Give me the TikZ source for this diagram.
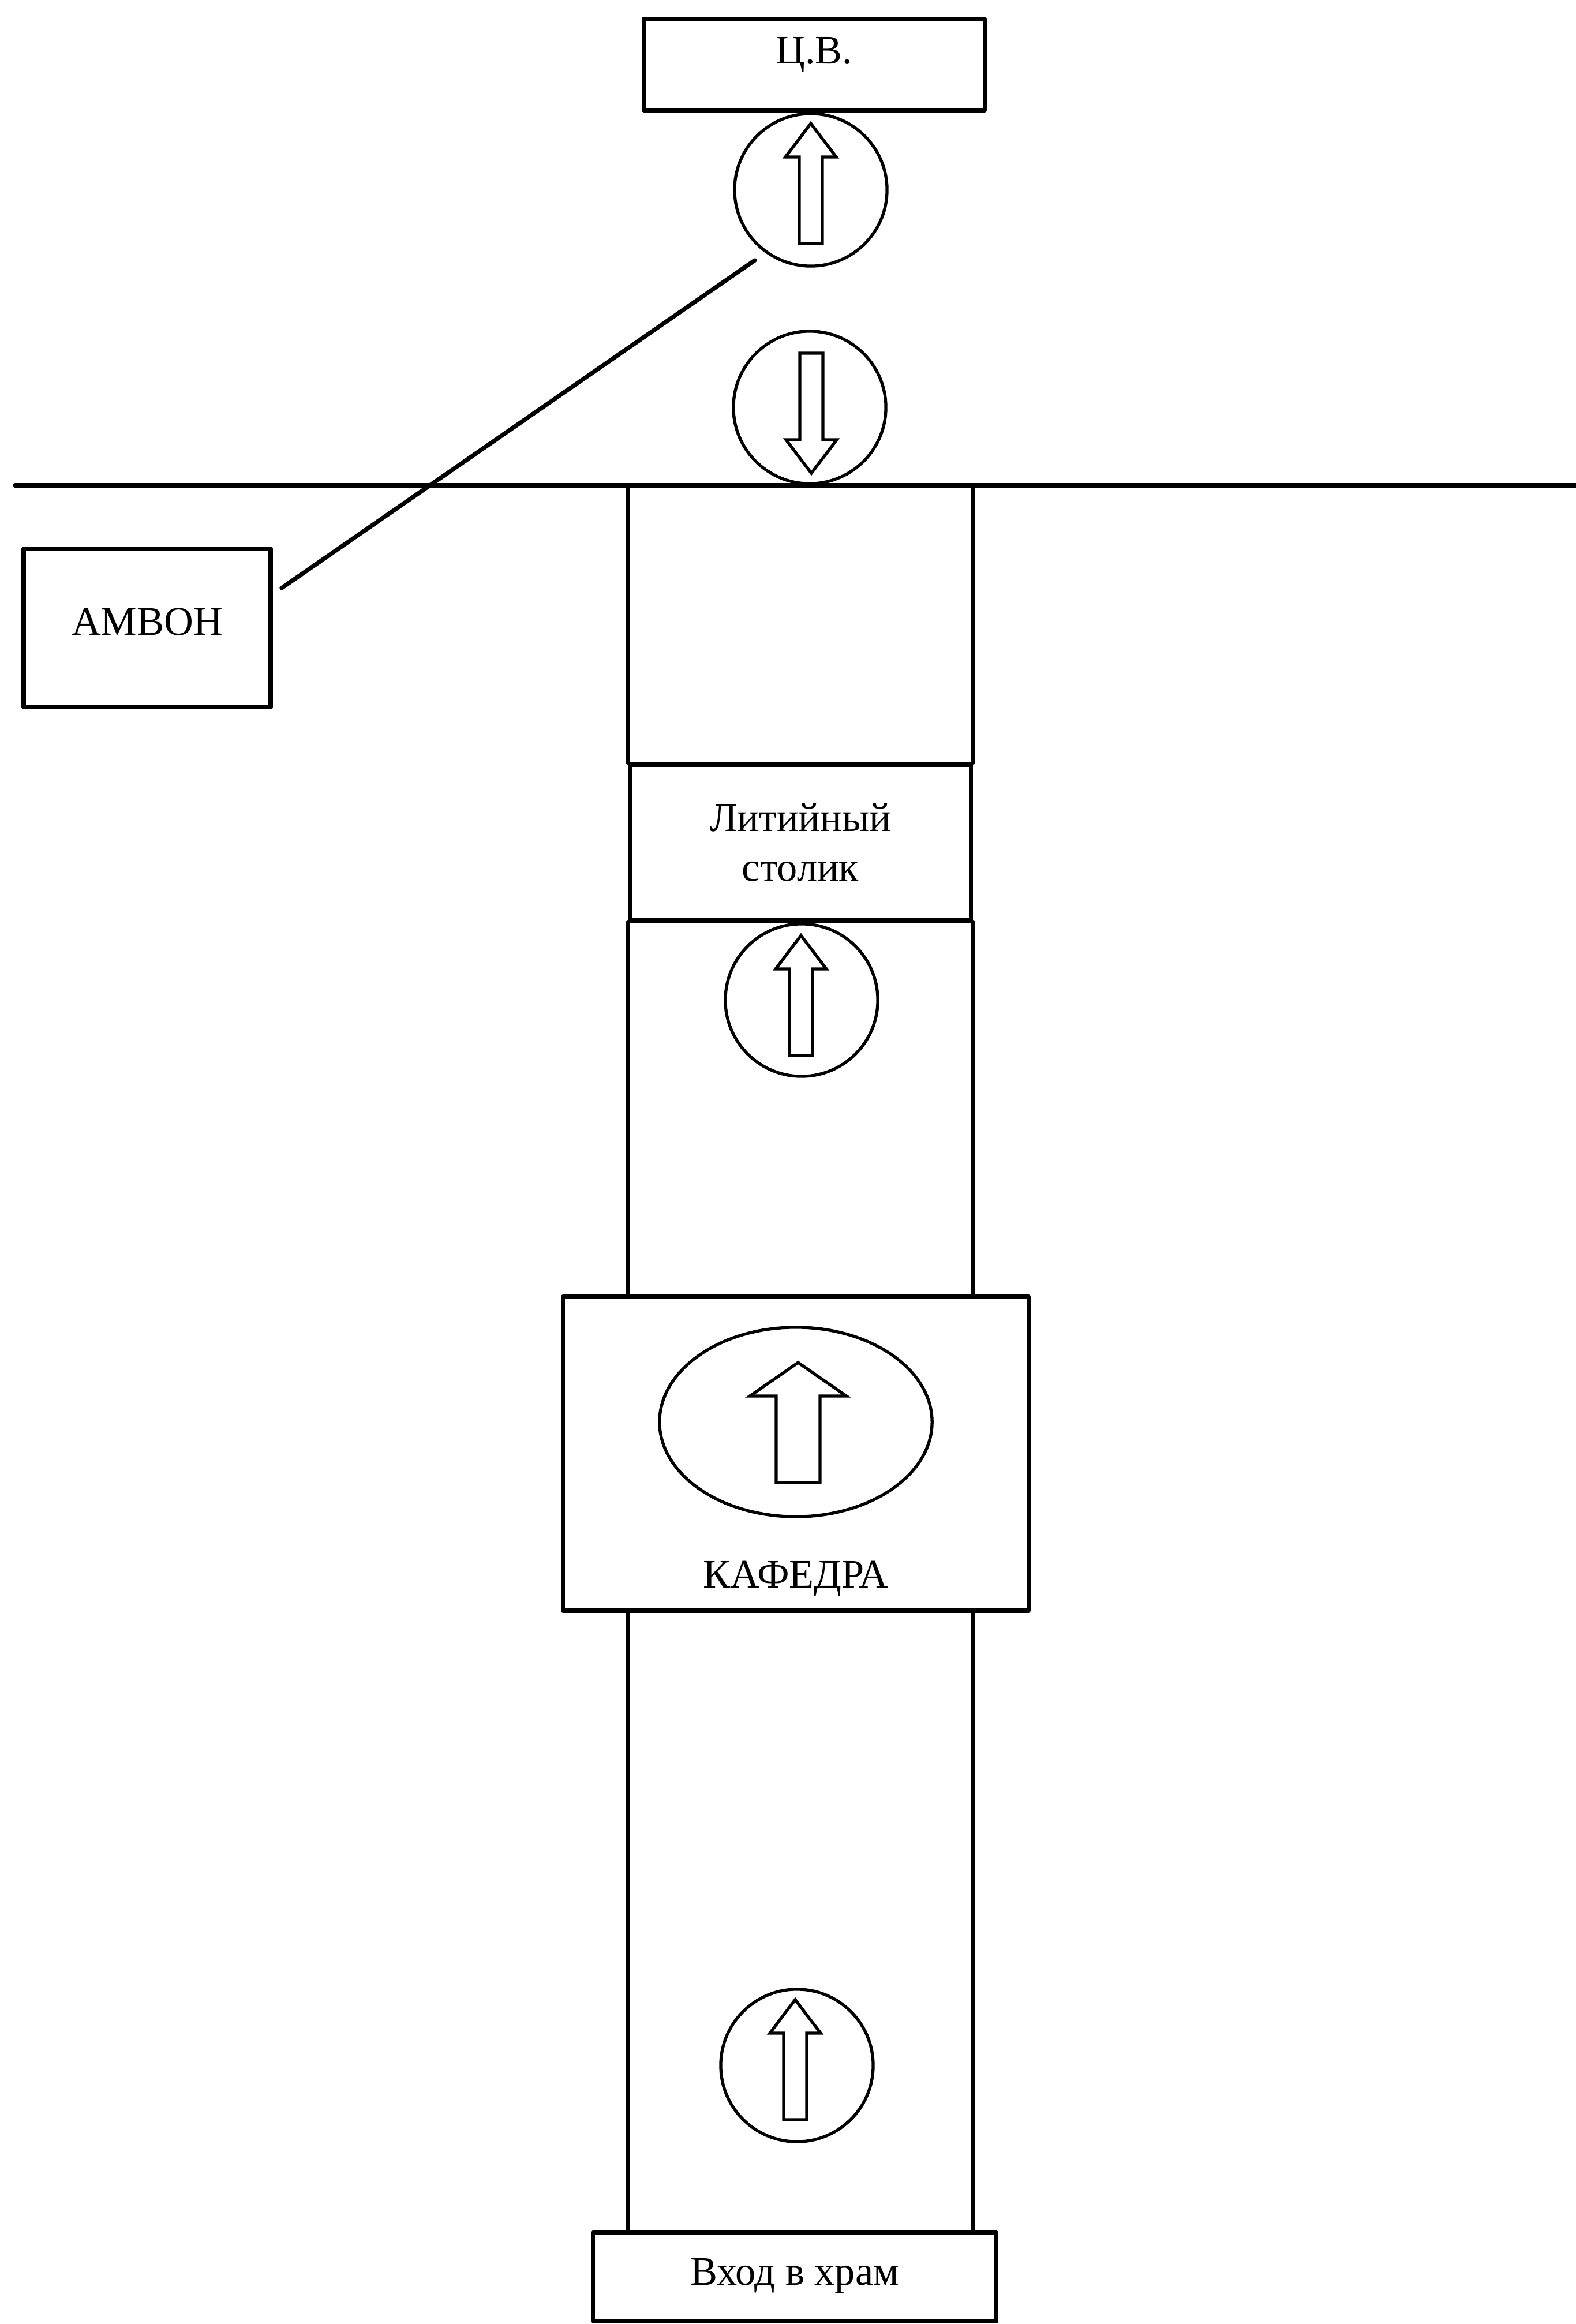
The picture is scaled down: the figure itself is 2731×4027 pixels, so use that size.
\documentclass[tikz,border=0pt]{standalone}
\usepackage{fontspec}
\setmainfont{Liberation Serif}
\usetikzlibrary{shapes.geometric}
\tikzset{
	frame/.style={draw, line width=2.1pt, inner sep=0pt},
	box/.style={frame, text height=13pt},
	ring/.style={draw, line width=1.5pt, circle, inner sep=0pt, minimum size=2.64cm},
	wall/.style={line width=2.1pt},
	walk/.pic={\draw[line width=1.5pt, line join=miter] (-20,95) -- (-20,-55) -- (-44,-55)
		-- (0,-113) -- (44,-55) -- (20,-55) -- (20,95) -- cycle;}
}
\begin{document}
\begin{tikzpicture}
	[x=0.01cm, y=-0.01cm, line join=round, line cap=round,
	every node/.style={font=\fontsize{20}{24.5}\selectfont}]
	\useasboundingbox (0,0) rectangle (2731,4027);
	\node[box, minimum width=5.9cm, minimum height=1.58cm, text depth=13.9pt] (cv) at (1411,112) {Ц.В.};
	\node[ring] (up1) at (1405,329) {};
	\node[ring] (dn1) at (1403,706) {};
	\pic at (1405,327) {walk};
	\pic[rotate=180] at (1406,707) {walk};
	\coordinate (sl) at (26,841);
	\coordinate (sr) at (2731,841);
	\draw[wall] (sl) -- (sr);
	\node[box, minimum width=4.28cm, minimum height=2.74cm, text depth=6pt] (ambon) at (255,1088) {АМВОН};
	\coordinate (a1) at (488,1019);
	\coordinate (a2) at (1308,451);
	\draw[wall] (a1) -- (a2);
	% middle passage
	\node[frame, align=center, minimum width=5.9cm, minimum height=2.7cm] (stol) at (1387,1460) {Литийный\\столик};
	\node[ring] (up2) at (1389,1733) {};
	\pic at (1388,1734) {walk};
	\node[box, minimum width=8.06cm, minimum height=5.44cm, text height=132pt, text depth=0pt] (kaf) at (1379,2519) {КАФЕДРА};
	\node[draw, ellipse, line width=1.5pt, inner sep=0pt, minimum width=4.72cm, minimum height=3.28cm] (kafe) at (1379,2464) {};
	\pic[xscale=1.9] at (1383,2474) {walk};
	\node[ring] (up3) at (1381,3579) {};
	\pic at (1378,3578) {walk};
	\node[box, minimum width=6.99cm, minimum height=1.54cm, text depth=4.8pt] (vhod) at (1377,3945) {Вход в храм};
	\draw[wall] (stol.north west |- sl) -- (stol.north west)
		(stol.north east |- sl) -- (stol.north east)
		(stol.south west) -- (stol.south west |- kaf.north)
		(stol.south east) -- (stol.south east |- kaf.north)
		(stol.south west |- kaf.south) -- (stol.south west |- vhod.north)
		(stol.south east |- kaf.south) -- (stol.south east |- vhod.north);
\end{tikzpicture}
\end{document}
